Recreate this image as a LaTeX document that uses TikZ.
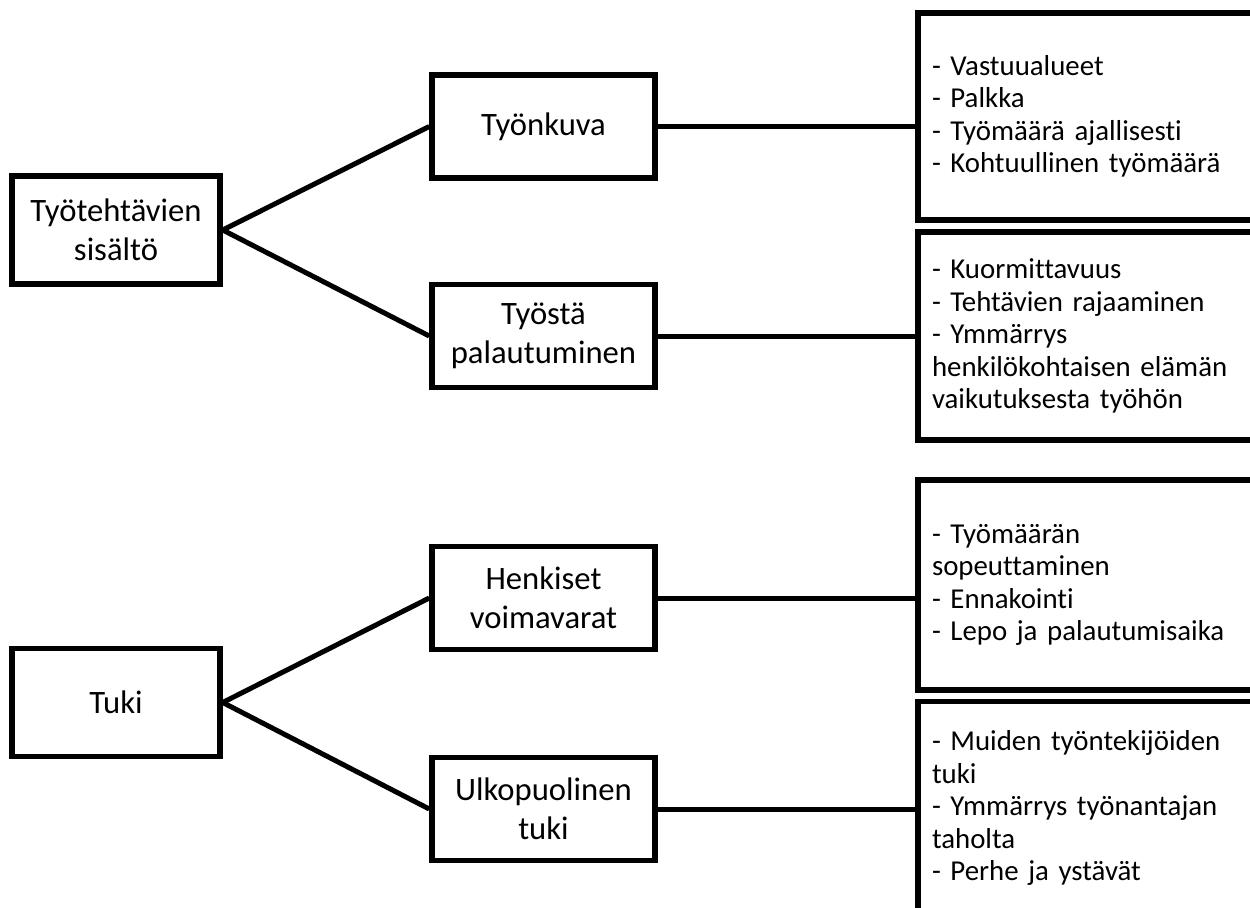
\documentclass[tikz,border=0pt]{standalone}
\usepackage{fontspec}
\setmainfont{Carlito}[Ligatures=NoCommon]
\begin{document}
\begin{tikzpicture}[x=0.6pt, y=-0.6pt,
  box/.style={draw=black, line width=3.3pt, rectangle, inner sep=0pt, align=center,
    font=\fontsize{19.6}{23.6}\selectfont},
  rootbox/.style={box, minimum width=124.8pt, minimum height=65pt},
  midbox/.style={box, minimum width=133.8pt, minimum height=62pt},
  listbox/.style={draw=black, line width=3.3pt, rectangle, inner xsep=8.4pt, inner ysep=0pt,
    text width=191.4pt, align=left, font=\fontsize{17.3}{19.5}\selectfont\raggedright},
  link/.style={draw=black, line width=3pt}]
  \clip (0,0) rectangle (1250,908);

  % first branch: tasks
  \node[rootbox] (content) at (116,230) {Työtehtävien\\sisältö};
  \node[midbox] (role) at (543.5,126.5) {Työnkuva};
  \node[midbox] (recovery) at (543.5,336) {Työstä\\palautuminen};
  \node[listbox, minimum height=124.2pt] (roleList) at (1091.5,116.5)
    {- Vastuualueet\\- Palkka\\- Työmäärä ajallisesti\\- Kohtuullinen työmäärä};
  \node[listbox, minimum height=124.8pt] (recoveryList) at (1091.5,336)
    {- Kuormittavuus\\- Tehtävien rajaaminen\\- Ymmärrys\\henkilökohtaisen elämän\\vaikutuksesta työhön};

  % second branch: support
  \node[rootbox] (support) at (116,702.5) {Tuki};
  \node[midbox] (inner) at (543.5,598) {Henkiset\\voimavarat};
  \node[midbox] (outer) at (543.5,809) {Ulkopuolinen\\tuki};
  \node[listbox, minimum height=126pt] (innerList) at (1091.5,585)
    {- Työmäärän\\sopeuttaminen\\- Ennakointi\\- Lepo ja palautumisaika};
  \node[listbox, minimum height=128pt] (outerList) at (1091.5,808)
    {- Muiden työntekijöiden\\tuki\\- Ymmärrys työnantajan\\taholta\\- Perhe ja ystävät};

  % connectors
  \draw[link] (content.east) -- (role.west);
  \draw[link] (content.east) -- (recovery.west);
  \draw[link] (support.east) -- (inner.west);
  \draw[link] (support.east) -- (outer.west);
  \draw[link] (role.east) -- (role.east -| roleList.west);
  \draw[link] (recovery.east) -- (recovery.east -| recoveryList.west);
  \draw[link] (inner.east) -- (inner.east -| innerList.west);
  \draw[link] (outer.east) -- (outer.east -| outerList.west);
\end{tikzpicture}
\end{document}
